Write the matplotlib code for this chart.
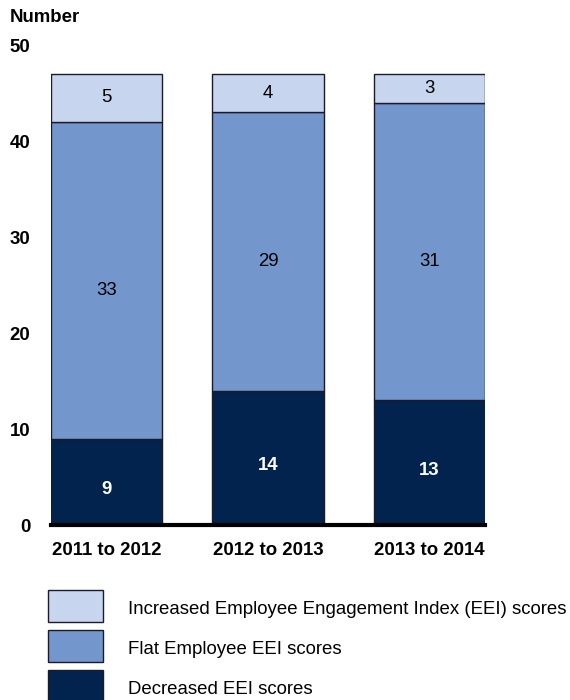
import matplotlib
matplotlib.use("Agg")
import matplotlib.pyplot as plt
from matplotlib.patches import Rectangle

plt.rcParams['font.family'] = ['Liberation Sans', 'DejaVu Sans']

categories = ["2011 to 2012", "2012 to 2013", "2013 to 2014"]
decreased = [9, 14, 13]
flat = [33, 29, 31]
increased = [5, 4, 3]
legend_labels = ["Increased Employee Engagement Index (EEI) scores",
                 "Flat Employee EEI scores",
                 "Decreased EEI scores"]

c_dark = "#03234F"
c_mid = "#7396CC"
c_light = "#C7D6EE"
edge = "#1a1a2a"
fs = 13.4

fig = plt.figure(figsize=(5.7, 7.0), dpi=100)
ax = fig.add_axes([51/570, 175/700, 434/570, 480/700])

x = list(range(len(categories)))
w = 0.69
ax.bar(x, decreased, width=w, color=c_dark, edgecolor=edge, linewidth=1.0)
ax.bar(x, flat, width=w, bottom=decreased, color=c_mid, edgecolor=edge, linewidth=1.0)
bot3 = [d + f for d, f in zip(decreased, flat)]
ax.bar(x, increased, width=w, bottom=bot3, color=c_light, edgecolor=edge, linewidth=1.0)

for i in x:
    ax.text(i, decreased[i] / 2 - 0.8, str(decreased[i]), ha='center', va='center',
            color='white', fontsize=fs, fontweight='bold')
    ax.text(i, decreased[i] + flat[i] / 2 - 1.1, str(flat[i]), ha='center', va='center',
            color='black', fontsize=fs)
    ax.text(i, bot3[i] + increased[i] / 2, str(increased[i]), ha='center', va='center',
            color='black', fontsize=fs)

ax.set_xlim(-0.345, 2.345)
ax.set_ylim(0, 50)
ax.set_yticks([0, 10, 20, 30, 40, 50])
ax.set_yticklabels([str(v) for v in [0, 10, 20, 30, 40, 50]], fontsize=fs, fontweight='bold')
ax.set_xticks(x)
ax.set_xticklabels(categories, fontsize=fs, fontweight='bold')
ax.tick_params(axis='both', length=0)
ax.tick_params(axis='y', pad=15)
ax.tick_params(axis='x', pad=12)
for s in ['top', 'right', 'left']:
    ax.spines[s].set_visible(False)
ax.spines['bottom'].set_linewidth(3)
ax.spines['bottom'].set_color('black')

fig.text(10/570, 1 - 18/700, "Number", fontsize=fs, fontweight='bold', va='center', ha='left')

# legend
leg_colors = [c_light, c_mid, c_dark]
ys = [590, 630, 670]
for col, lab, yt in zip(leg_colors, legend_labels, ys):
    r = Rectangle((48/570, 1 - (yt + 32)/700), 55/570, 32/700, transform=fig.transFigure,
                  facecolor=col, edgecolor=edge, linewidth=1.0)
    fig.patches.append(r)
    fig.text(128/570, 1 - (yt + 19)/700, lab, fontsize=fs, va='center', ha='left')

fig.savefig("out.png", dpi=100)
